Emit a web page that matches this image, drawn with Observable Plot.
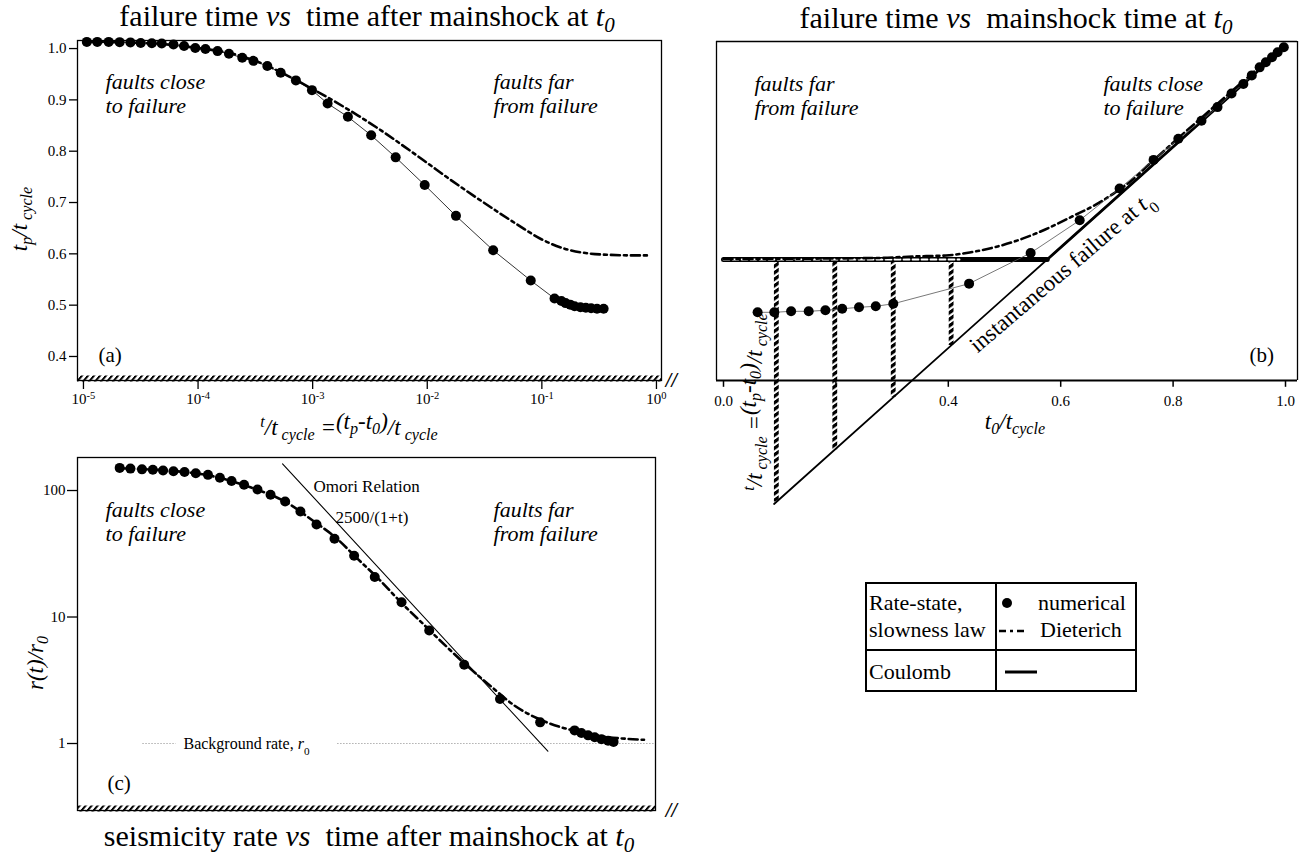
<!DOCTYPE html>
<html>
<head>
<meta charset="utf-8">
<script src="https://cdn.jsdelivr.net/npm/d3@7"></script>
<script src="https://cdn.jsdelivr.net/npm/@observablehq/plot@0.6"></script>
<style>
  body { margin: 0; background: #fff; }
  #page { position: relative; width: 1316px; height: 857px; overflow: hidden;
          font-family: "Liberation Serif", "Times New Roman", serif; color: #000; }
  #page svg text { font-family: "Liberation Serif", "Times New Roman", serif; }
  .abs { position: absolute; white-space: nowrap; }
  .title { font-size: 30px; line-height: 1.05; transform: translate(-50%, -50%); }
  .lab { font-size: 23px; line-height: 1.1; font-style: italic; transform: translate(-50%, -50%); }
  .rot { transform: translate(-50%, -50%) rotate(-90deg); }
  sub { font-size: 70%; vertical-align: -0.28em; line-height: 0; }
  sup { font-size: 70%; vertical-align: 0.5em; line-height: 0; }
  .leg { font-size: 22px; line-height: 26px; }
  svg.plot { overflow: visible; }
</style>
</head>
<body>
<div id="page">
  <!-- stripe patterns for the hatched axes and connectors -->
  <svg width="1" height="1" style="position:absolute;left:0;top:0">
    <defs>
      <pattern id="hatchH" patternUnits="userSpaceOnUse" width="6" height="10" patternTransform="skewX(-40)">
        <rect x="0" y="0" width="2.6" height="10" fill="#000"></rect>
      </pattern>
      <pattern id="hatchV" patternUnits="userSpaceOnUse" width="10" height="6.5" patternTransform="skewY(-35)">
        <rect x="0" y="0" width="10" height="4" fill="#000"></rect>
      </pattern>
    </defs>
  </svg>

  <div class="abs title" style="left:367px;top:16px">failure time <i>vs</i>&nbsp; time after mainshock at <i>t<sub>0</sub></i></div>
  <div class="abs title" style="left:1016px;top:18px">failure time <i>vs</i>&nbsp; mainshock time at <i>t<sub>0</sub></i></div>
  <div class="abs title" style="left:369px;top:836px">seismicity rate <i>vs</i>&nbsp; time after mainshock at <i>t<sub>0</sub></i></div>

  <div id="panelA" class="abs" style="left:0;top:30px"></div>
  <div id="panelB" class="abs" style="left:700px;top:30px"></div>
  <div id="panelC" class="abs" style="left:0;top:450px"></div>

  <div class="abs lab rot" style="left:20px;top:219px">t<sub>p</sub>/t<sub>&nbsp;cycle</sub></div>
  <div class="abs lab" style="left:349px;top:428px"><sup>t</sup>/t<sub>&nbsp;cycle</sub> =<span style="position:relative;top:-0.25em">(t<sub>p</sub>-t<sub>0</sub>)</span>/t<sub>&nbsp;cycle</sub></div>
  <div class="abs lab" style="left:1015px;top:422px">t<sub>0</sub>/t<sub>cycle</sub></div>
  <div class="abs lab rot" style="left:755px;top:402px"><sup>t</sup>/t<sub>&nbsp;cycle</sub> =<span style="position:relative;top:-0.25em">(t<sub>p</sub>-t<sub>0</sub>)</span>/t<sub>&nbsp;cycle</sub></div>
  <div class="abs lab rot" style="left:36px;top:663px">r(t)/r<sub>0</sub></div>

  <!-- legend table -->
  <div class="abs" style="left:865px;top:582px;width:272px;height:110px;border:2px solid #000;box-sizing:border-box"></div>
  <div class="abs" style="left:995px;top:582px;width:2px;height:110px;background:#000"></div>
  <div class="abs" style="left:865px;top:649px;width:272px;height:1.5px;background:#000"></div>
  <div class="abs leg" style="left:869px;top:590px">Rate-state,</div>
  <div class="abs leg" style="left:869px;top:617px">slowness law</div>
  <div class="abs leg" style="left:869px;top:659px">Coulomb</div>
  <svg class="abs" style="left:997px;top:590px" width="40" height="90">
    <circle cx="10" cy="13" r="5" fill="#000"></circle>
    <line x1="2" x2="30" y1="41" y2="41" stroke="#000" stroke-width="2.5" stroke-dasharray="7 4 3 4"></line>
    <line x1="8" x2="40" y1="82" y2="82" stroke="#000" stroke-width="3"></line>
  </svg>
  <div class="abs leg" style="left:1038px;top:590px">numerical</div>
  <div class="abs leg" style="left:1040px;top:617px">Dieterich</div>
</div>

<script>
// ---------- (a) failure time vs time after mainshock ----------
const aTime = [1.07e-5, 1.32e-5, 1.66e-5, 2.07e-5, 2.57e-5, 3.16e-5, 3.95e-5, 4.82e-5, 6.10e-5, 7.55e-5,
  9.46e-5, 1.16e-4, 1.48e-4, 1.86e-4, 2.43e-4, 3.04e-4, 4.02e-4, 5.26e-4, 7.14e-4, 9.86e-4,
  1.35e-3, 2.03e-3, 3.24e-3, 5.30e-3, 9.5e-3, 1.78e-2, 3.76e-2, 8.0e-2, 0.129, 0.148,
  0.161, 0.177, 0.193, 0.217, 0.242, 0.269, 0.303, 0.346];
const aNumerical = [1.013, 1.013, 1.013, 1.0125, 1.012, 1.011, 1.0105, 1.010, 1.008, 1.005,
  1.001, 0.999, 0.995, 0.990, 0.982, 0.976, 0.966, 0.953, 0.938, 0.919,
  0.893, 0.867, 0.831, 0.788, 0.734, 0.674, 0.607, 0.548, 0.513, 0.508,
  0.504, 0.501, 0.498, 0.496, 0.495, 0.494, 0.493, 0.493];
const aDietTime = [1.07e-5, 3.16e-5, 1e-4, 2.0e-4, 3.98e-4, 6.31e-4, 1e-3, 1.58e-3, 2.51e-3, 3.98e-3,
  6.31e-3, 1e-2, 1.58e-2, 2.51e-2, 3.98e-2, 6.31e-2, 0.1, 0.158, 0.251, 0.398, 0.631, 0.851];
const aDieterich = [1.013, 1.011, 1.001, 0.990, 0.967, 0.945, 0.921, 0.896, 0.869, 0.840,
  0.809, 0.777, 0.745, 0.714, 0.684, 0.655, 0.628, 0.610, 0.601, 0.598, 0.597, 0.597];
const aXTicks = [1e-5, 1e-4, 1e-3, 1e-2, 1e-1, 1];
const aYTicks = [0.4, 0.5, 0.6, 0.7, 0.8, 0.9, 1.0];
const aNotes = [
  {t: 1.56e-5, v: 0.913, text: "faults close\nto failure"},
  {t: 0.0379, v: 0.913, text: "faults far\nfrom failure"}
];
const aPanelLabel = [{t: 1.35e-5, v: 0.402, text: "(a)"}];

// ---------- (b) failure time vs mainshock time ----------
const bT0 = [0.0607, 0.0904, 0.1203, 0.1516, 0.1813, 0.2112, 0.2411, 0.2709, 0.3021, 0.437,
  0.5465, 0.6338, 0.7048, 0.7653, 0.8093, 0.8505, 0.879, 0.904, 0.925, 0.940,
  0.954, 0.965, 0.976, 0.986, 0.997];
const bNumerical = [0.471, 0.471, 0.473, 0.473, 0.475, 0.478, 0.481, 0.483, 0.488, 0.528,
  0.589, 0.654, 0.717, 0.774, 0.816, 0.852, 0.879, 0.906, 0.925, 0.942,
  0.958, 0.968, 0.978, 0.988, 0.998];
const bDietT0 = [0, 0.275, 0.339, 0.396, 0.438, 0.481, 0.531, 0.581, 0.623, 0.659, 0.694, 0.723, 0.758, 0.865, 1.0];
const bDieterich = [0.577, 0.579, 0.582, 0.584, 0.590, 0.600, 0.617, 0.640, 0.663, 0.683, 0.707, 0.730, 0.766, 0.872, 1.003];
const bCoulombLevel = 0.576;          // Coulomb failure time for unloaded faults
const bCoulombT0 = [0, 0.576, 1.0];
const bInstantT0 = [0.09, 1.0];       // tp = t0
const bHatchT0 = [0.094, 0.198, 0.302, 0.405];
const bHatchEnd = 0.42;
const bAxisLevel = 0.3354;
const bXTicks = [0, 0.2, 0.4, 0.6, 0.8, 1.0];
const bXTickLabels = [0, 0.4, 0.6, 0.8, 1.0];
const bNotes = [
  {x: 0.055, v: 0.903, text: "faults far\nfrom failure"},
  {x: 0.676, v: 0.903, text: "faults close\nto failure"}
];
const bPanelLabel = [{x: 0.936, v: 0.385, text: "(b)"}];
const bInstantLabel = {x: 0.6014, v: 0.551, text: "instantaneous failure at ~{t}_{0}"};

// ---------- (c) seismicity rate vs time after mainshock ----------
const cTime = [2.07e-5, 2.57e-5, 3.24e-5, 4.03e-5, 4.95e-5, 6.10e-5, 7.62e-5, 9.55e-5, 1.22e-4, 1.55e-4,
  1.96e-4, 2.52e-4, 3.30e-4, 4.29e-4, 5.75e-4, 7.82e-4, 1.08e-3, 1.55e-3, 2.30e-3, 3.48e-3,
  5.96e-3, 1.04e-2, 2.10e-2, 4.31e-2, 9.66e-2, 0.193, 0.221, 0.253, 0.289, 0.331, 0.378, 0.422];
const cNumerical = [151, 149, 147, 146, 144, 142, 140, 137, 133, 126,
  119, 111, 102, 92.5, 81.8, 68.2, 53.8, 41.5, 30.5, 20.7,
  13.1, 7.82, 4.19, 2.25, 1.47, 1.27, 1.21, 1.16, 1.12, 1.08, 1.05, 1.03];
const cDietTime = [2.0e-5, 1e-4, 2.86e-4, 5.86e-4, 1.0e-3, 1.57e-3, 2.47e-3, 3.87e-3, 6.07e-3, 9.5e-3,
  1.49e-2, 2.33e-2, 3.66e-2, 5.74e-2, 9.0e-2, 0.141, 0.221, 0.346, 0.543, 0.778];
const cDieterich = [150, 136, 106, 80.9, 57.9, 42.8, 28.8, 19.5, 12.7, 8.57,
  5.77, 3.96, 2.79, 2.0, 1.59, 1.36, 1.23, 1.135, 1.09, 1.07];
const omoriTime = [5.46e-4, 0.1127];
const omoriRate = [162.6, 0.869];
const backgroundRate = 1;
const backgroundSpans = [[3.31e-5, 6.46e-5], [1.66e-3, 0.977]];
const cYTicks = [1, 10, 100];
const cNotes = [
  {t: 1.56e-5, r: 57.4, text: "faults close\nto failure"},
  {t: 0.0379, r: 57.4, text: "faults far\nfrom failure"}
];
const cLabels = [
  {t: 1.62e-5, r: 0.483, text: "(c)", size: 21},
  {t: 1.016e-3, r: 107.6, text: "Omori Relation", size: 17},
  {t: 1.58e-3, r: 61.2, text: "2500/(1+t)", size: 17},
  {t: 7.46e-5, r: 1.0, text: "Background rate, ~{r}_{0}", size: 16}
];

const FONT = "Liberation Serif, Times New Roman, serif";
const style = {fontFamily: FONT, fontSize: "15px", background: "transparent", color: "#000"};
const zip2 = (xs, ys, kx, ky) => xs.map((d, i) => ({[kx]: d, [ky]: ys[i]}));

// stroke widths that tag the hatched marks for the striped paint below
const HATCH_H_WIDTH = 6.01;
const HATCH_V_WIDTH = 4.82;

// Turn ^{..}, _{..} and ~{..} markup into super/subscript and italic tspans,
// and give the hatched marks their striped stroke.
function finish(svg) {
  const NS = "http://www.w3.org/2000/svg";
  svg.querySelectorAll("text, tspan").forEach(el => {
    if (el.children.length) return;
    const s = el.textContent;
    if (!/[\^_~]\{/.test(s)) return;
    el.textContent = "";
    const add = (txt, kind) => {
      const t = document.createElementNS(NS, "tspan");
      t.textContent = txt;
      if (kind === "^" || kind === "_") {
        t.setAttribute("font-size", "70%");
        t.setAttribute("baseline-shift", kind === "^" ? "super" : "sub");
      } else if (kind === "~") {
        t.setAttribute("font-style", "italic");
      }
      el.appendChild(t);
    };
    const re = /([\^_~])\{([^}]*)\}/g;
    let last = 0, m;
    while ((m = re.exec(s))) {
      if (m.index > last) add(s.slice(last, m.index));
      add(m[2], m[1]);
      last = re.lastIndex;
    }
    if (last < s.length) add(s.slice(last));
  });
  const paint = (w, id) => svg.querySelectorAll(`[stroke-width="${w}"]`).forEach(g => {
    g.setAttribute("stroke", `url(#${id})`);
    g.querySelectorAll("*").forEach(el => el.setAttribute("stroke", `url(#${id})`));
  });
  paint(HATCH_H_WIDTH, "hatchH");
  paint(HATCH_V_WIDTH, "hatchV");
  return svg;
}

const hatch = {stroke: "#000", strokeWidth: HATCH_H_WIDTH};
const dashDot = {stroke: "#000", strokeWidth: 2.6, strokeDasharray: "9 4 3 4"};
const italicText = {fontFamily: FONT, fontStyle: "italic", fontSize: 22, textAnchor: "start", lineAnchor: "middle", lineHeight: 1.12};
const plainText = {fontFamily: FONT, textAnchor: "start", lineAnchor: "middle"};

// ---------- panel (a) ----------
const aYDomain = [0.3532, 1.0157];
const panelA = Plot.plot({
  width: 700, height: 420, marginLeft: 77, marginRight: 39, marginTop: 10, marginBottom: 70,
  style,
  x: {type: "log", domain: [10 ** -5.052, 10 ** 0.044], axis: null},
  y: {domain: aYDomain, axis: null},
  marks: [
    Plot.frame({stroke: "#000", strokeWidth: 1.3}),
    Plot.ruleY([aYDomain[0]], {stroke: "#000", strokeWidth: 1.2}),
    Plot.ruleY([aYDomain[0]], {...hatch, dy: -2}),
    Plot.axisY({ticks: aYTicks, tickSize: 8, tickPadding: 3, tickFormat: ".1f", fontSize: 15, fontFamily: FONT, label: null, strokeWidth: 1.3}),
    Plot.axisX({ticks: aXTicks, tickSize: 9, tickPadding: 4, fontSize: 15, fontFamily: FONT, label: null, strokeWidth: 1.3,
      tickFormat: d => `10^{${Math.round(Math.log10(d))}}`}),
    Plot.text([{t: 1.35, v: aYDomain[0]}], {x: "t", y: "v", text: () => "//", fontSize: 20, fontWeight: "bold", fontStyle: "italic", fontFamily: FONT}),
    Plot.line(zip2(aDietTime, aDieterich, "t", "v"), {x: "t", y: "v", ...dashDot, curve: "monotone-x"}),
    Plot.line(zip2(aTime, aNumerical, "t", "v"), {x: "t", y: "v", stroke: "#000", strokeWidth: 0.8}),
    Plot.dot(zip2(aTime, aNumerical, "t", "v"), {x: "t", y: "v", r: 5, fill: "#000"}),
    Plot.text(aNotes, {x: "t", y: "v", text: "text", ...italicText}),
    Plot.text(aPanelLabel, {x: "t", y: "v", text: "text", fontSize: 21, ...plainText})
  ]
});
document.getElementById("panelA").append(finish(panelA));

// ---------- panel (b) ----------
const bXDomain = [-0.01246, 1.02135];
const bYTop = 1.0094;
const panelB = Plot.plot({
  width: 616, height: 500, marginLeft: 16, marginRight: 19, marginTop: 11, marginBottom: 20,
  style,
  x: {domain: bXDomain, axis: null},
  y: {domain: [0.077, bYTop], axis: null},
  marks: [
    // frame and axis
    Plot.ruleY([bYTop], {stroke: "#000", strokeWidth: 1.3}),
    Plot.ruleX(bXDomain, {y1: bAxisLevel, y2: bYTop, stroke: "#000", strokeWidth: 1.3}),
    Plot.ruleY([bAxisLevel], {stroke: "#000", strokeWidth: 2}),
    Plot.ruleX(bXTicks, {x: d => d, y1: bAxisLevel, y2: bAxisLevel - 0.0135, stroke: "#000", strokeWidth: 1.5}),
    Plot.text(bXTickLabels, {x: d => d, y: bAxisLevel, dy: 21, text: d => d.toFixed(1), fontSize: 15, fontFamily: FONT}),
    // instantaneous failure tp = t0
    Plot.line(bInstantT0, {x: d => d, y: d => d, stroke: "#000", strokeWidth: 1.8}),
    // hatched connectors from the Coulomb level down to tp = t0
    Plot.ruleX(bHatchT0, {x: d => d, y1: bCoulombLevel, y2: d => d, stroke: "#000", strokeWidth: HATCH_V_WIDTH}),
    // Coulomb
    Plot.line(bCoulombT0.slice(0, 2), {x: d => d, y: bCoulombLevel, stroke: "#000", strokeWidth: 5}),
    Plot.line([bCoulombT0[0], bHatchEnd], {x: d => d, y: bCoulombLevel, stroke: "#fff", strokeWidth: 1.8, strokeDasharray: "6 3"}),
    Plot.line(bCoulombT0.slice(1), {x: d => d, y: d => Math.max(d, bCoulombLevel), stroke: "#000", strokeWidth: 2.8}),
    // Dieterich and numerical
    Plot.line(zip2(bDietT0, bDieterich, "x", "v"), {x: "x", y: "v", ...dashDot, curve: "monotone-x"}),
    Plot.line(zip2(bT0, bNumerical, "x", "v"), {x: "x", y: "v", stroke: "#555", strokeWidth: 0.8}),
    Plot.dot(zip2(bT0, bNumerical, "x", "v"), {x: "x", y: "v", r: 5, fill: "#000"}),
    Plot.text(bNotes, {x: "x", y: "v", text: "text", ...italicText}),
    Plot.text(bPanelLabel, {x: "x", y: "v", text: "text", fontSize: 21, ...plainText}),
    Plot.text([bInstantLabel], {x: "x", y: "v", text: "text", rotate: -40.5, fontSize: 23, fontFamily: FONT, textAnchor: "middle", lineAnchor: "middle"})
  ]
});
document.getElementById("panelB").append(finish(panelB));

// ---------- panel (c) ----------
const cYDomain = [10 ** -0.5296, 10 ** 2.261];
const panelC = Plot.plot({
  width: 700, height: 407, marginLeft: 77, marginRight: 45, marginTop: 7, marginBottom: 47,
  style,
  x: {type: "log", domain: [10 ** -5.052, 10 ** -0.0087], axis: null},
  y: {type: "log", domain: cYDomain, axis: null},
  marks: [
    Plot.frame({stroke: "#000", strokeWidth: 1.3}),
    Plot.ruleY([cYDomain[0]], {stroke: "#000", strokeWidth: 1.2}),
    Plot.ruleY([cYDomain[0]], {...hatch, dy: -2}),
    Plot.text([{t: 1.35, r: cYDomain[0]}], {x: "t", y: "r", text: () => "//", fontSize: 20, fontWeight: "bold", fontStyle: "italic", fontFamily: FONT}),
    Plot.axisY({ticks: cYTicks, tickSize: 10, tickPadding: 2, tickFormat: d => String(d), fontSize: 15, fontFamily: FONT, label: null, strokeWidth: 1.3}),
    Plot.ruleY(backgroundSpans, {x1: d => d[0], x2: d => d[1], y: backgroundRate, stroke: "#888", strokeWidth: 1, strokeDasharray: "1 2"}),
    Plot.line(zip2(omoriTime, omoriRate, "t", "r"), {x: "t", y: "r", stroke: "#000", strokeWidth: 1.1}),
    Plot.line(zip2(cDietTime, cDieterich, "t", "r"), {x: "t", y: "r", ...dashDot, curve: "monotone-x"}),
    Plot.dot(zip2(cTime, cNumerical, "t", "r"), {x: "t", y: "r", r: 5, fill: "#000"}),
    Plot.text(cNotes, {x: "t", y: "r", text: "text", ...italicText}),
    Plot.text(cLabels, {x: "t", y: "r", text: "text", fontSize: "size", ...plainText})
  ]
});
document.getElementById("panelC").append(finish(panelC));
</script>
</body>
</html>
